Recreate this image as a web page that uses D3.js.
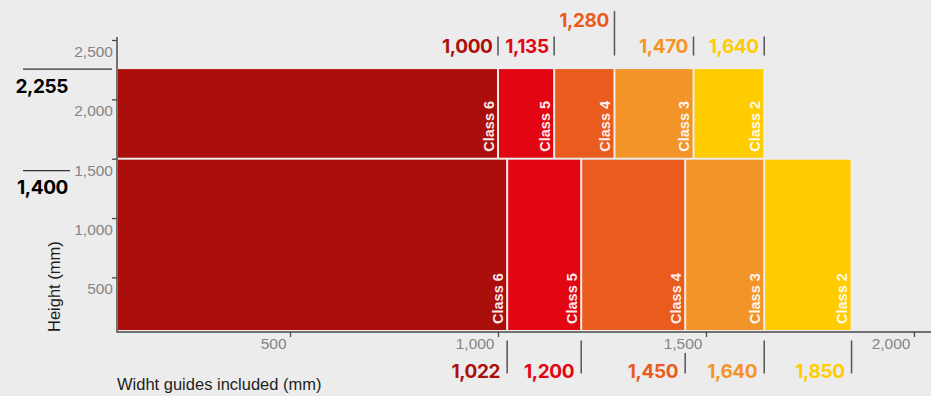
<!DOCTYPE html>
<html>
<head>
<meta charset="utf-8">
<script src="https://cdn.jsdelivr.net/npm/d3@7"></script>
<style>
  html, body { margin: 0; padding: 0; background: #ececec; }
  svg { display: block; font-family: "Liberation Sans", Arial, Helvetica, sans-serif; }
  .num { font-family: Inter, "Liberation Sans", Arial, sans-serif; font-weight: 700; font-variant-numeric: proportional-nums; }
</style>
</head>
<body>
<svg id="chart" width="931" height="396"></svg>
<script>
// ---- data ----
const classes = ["Class 6", "Class 5", "Class 4", "Class 3", "Class 2"];
const classColors = ["#ab0f0b", "#e20613", "#ea5b1e", "#f39428", "#ffcc00"];
const upperWidths = [1000, 1135, 1280, 1470, 1640];   // row with height 2,255
const lowerWidths = [1022, 1200, 1450, 1640, 1850];   // row with height 1,400
const rowHeights = [2255, 1400];
const rowSplit = 1500;
const raisedTopLabels = [1280];
const yTicks = [500, 1000, 1500, 2000, 2500];
const xTicks = [500, 1000, 1500, 2000];
const xTitle = "Widht guides included (mm)";
const yTitle = "Height (mm)";

// ---- layout ----
const W = 931, H = 396;
const svg = d3.select("#chart");
const fmt = d3.format(",");

const x = d3.scaleLinear().domain([84, 2041]).range([117, 931]);
const y = d3.scaleLinear().domain([40, 2500]).range([332, 40]);
const x0 = x.range()[0], yBase = y.range()[0];

const axisColor = "#4a4a4a";
const tickText = "#858585";
const numSize = 19;

// ---- bars ----
function drawRow(widths, yTop, yBottom, cls) {
  const g = svg.append("g").attr("class", cls);
  const edges = [x.domain()[0]].concat(widths);
  const data = widths.map((w, i) => ({ name: classes[i], color: classColors[i], from: edges[i], to: w }));
  g.selectAll("rect").data(data).join("rect")
    .attr("x", d => x(d.from) + 1)
    .attr("y", yTop + 1)
    .attr("width", d => x(d.to) - x(d.from) - 2)
    .attr("height", yBottom - yTop - 2)
    .attr("fill", d => d.color);
  g.selectAll("text").data(data).join("text")
    .attr("transform", d => `translate(${x(d.to) - 4.5},${yBottom - 7}) rotate(-90)`)
    .attr("text-anchor", "start")
    .attr("fill", "#ffffff")
    .attr("fill-opacity", 0.92)
    .attr("font-weight", "bold")
    .attr("font-size", 14.5)
    .text(d => d.name);
}
drawRow(upperWidths, y(rowHeights[0]) - 1, y(rowSplit), "upper");
drawRow(lowerWidths, y(rowSplit), yBase - 1, "lower");

// ---- axes ----
const gy = svg.append("g").attr("transform", `translate(${x0},0)`)
  .call(d3.axisLeft(y).tickValues(yTicks).tickSize(5).tickFormat(fmt));
gy.select(".domain").remove();
gy.selectAll(".tick line").attr("stroke", axisColor).attr("stroke-width", 1.3);
gy.selectAll(".tick text")
  .attr("x", -4).attr("y", 16.5).attr("dy", 0)
  .attr("fill", tickText).attr("font-size", 15.5).attr("font-family", null);
svg.append("line")
  .attr("x1", x0).attr("x2", x0)
  .attr("y1", y(2500) - 3).attr("y2", yBase + 0.5)
  .attr("stroke", axisColor).attr("stroke-width", 1.5);

const gx = svg.append("g").attr("transform", `translate(0,${yBase})`)
  .call(d3.axisBottom(x).tickValues(xTicks).tickSize(5).tickFormat(fmt));
gx.select(".domain").remove();
gx.selectAll(".tick line").attr("stroke", axisColor).attr("stroke-width", 1.3);
gx.selectAll(".tick text")
  .attr("text-anchor", "end").attr("x", -4).attr("y", 17).attr("dy", 0)
  .attr("fill", tickText).attr("font-size", 15.5).attr("font-family", null);
svg.append("line")
  .attr("x1", x0).attr("x2", W)
  .attr("y1", yBase).attr("y2", yBase)
  .attr("stroke", axisColor).attr("stroke-width", 1.5);

// ---- axis titles ----
svg.append("text")
  .attr("x", x0).attr("y", 390)
  .attr("fill", "#1e1e1e").attr("font-size", 16.5)
  .text(xTitle);
svg.append("text")
  .attr("transform", `translate(60,${yBase}) rotate(-90)`)
  .attr("fill", "#1e1e1e").attr("font-size", 16.5)
  .text(yTitle);

// ---- width annotations, top (upper row) ----
const markColor = "#555555";
upperWidths.forEach((w, i) => {
  const mx = x(w);
  const raised = raisedTopLabels.includes(w);
  svg.append("line")
    .attr("x1", mx).attr("x2", mx)
    .attr("y1", raised ? 11 : 36.5).attr("y2", 55.5)
    .attr("stroke", markColor).attr("stroke-width", 1.5);
  svg.append("text")
    .attr("class", "num")
    .attr("x", mx - 5.5).attr("y", raised ? 26.5 : 53)
    .attr("text-anchor", "end")
    .attr("fill", classColors[i]).attr("font-size", numSize)
    .attr("letter-spacing", -0.4)
    .text(fmt(w));
});

// ---- width annotations, bottom (lower row) ----
const xTickLabelSpan = xTicks.map(t => [x(t) - 4 - 38, x(t) - 4]);
lowerWidths.forEach((w, i) => {
  const mx = x(w);
  const hitsTick = xTickLabelSpan.some(([a, b]) => mx >= a && mx <= b);
  svg.append("line")
    .attr("x1", mx).attr("x2", mx)
    .attr("y1", hitsTick ? 353 : 340.5).attr("y2", 373.5)
    .attr("stroke", markColor).attr("stroke-width", 1.5);
  svg.append("text")
    .attr("class", "num")
    .attr("x", mx - 7).attr("y", 378)
    .attr("text-anchor", "end")
    .attr("fill", classColors[i]).attr("font-size", numSize)
    .attr("letter-spacing", -0.4)
    .text(fmt(w));
});

// ---- height annotations (left) ----
rowHeights.forEach(h => {
  const ly = y(h);
  const hitsTick = yTicks.some(t => ly >= y(t) + 3 && ly <= y(t) + 18);
  svg.append("line")
    .attr("x1", 23).attr("x2", hitsTick ? 70 : 112)
    .attr("y1", ly).attr("y2", ly)
    .attr("stroke", "#333333").attr("stroke-width", 1.3);
  svg.append("text")
    .attr("class", "num")
    .attr("x", 68).attr("y", ly + 23.5)
    .attr("text-anchor", "end")
    .attr("fill", "#000000").attr("font-size", numSize)
    .attr("letter-spacing", -0.4)
    .text(fmt(h));
});
</script>
</body>
</html>
